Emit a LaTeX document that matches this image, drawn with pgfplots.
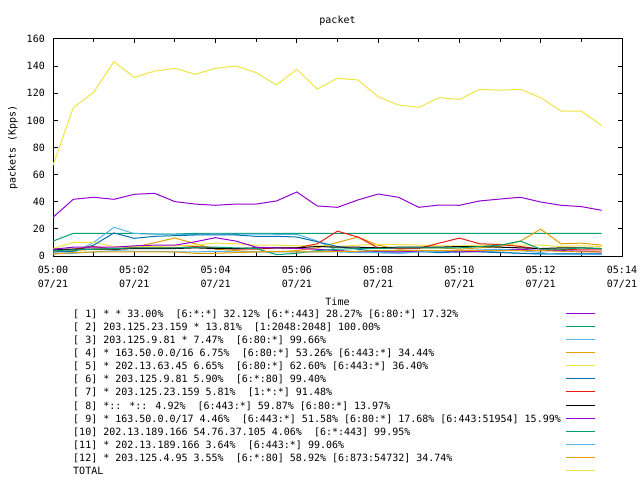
\documentclass[border=0pt]{standalone}
\usepackage{pgfplots}
\pgfplotsset{compat=1.18}
\usepackage{pgfplotstable}
\usepackage{fontspec}
\setmainfont{DejaVu Sans Mono}

% gnuplot default line colours
\definecolor{gp1}{RGB}{148,0,211}
\definecolor{gp2}{RGB}{0,158,115}
\definecolor{gp3}{RGB}{86,180,233}
\definecolor{gp4}{RGB}{230,159,0}
\definecolor{gp5}{RGB}{240,228,66}
\definecolor{gp6}{RGB}{0,114,178}
\definecolor{gp7}{RGB}{229,30,16}
\definecolor{gp8}{RGB}{0,0,0}

% t = minutes after 05:00
\pgfplotstableread{
t    s1   s2   s3   s4   s5   s6   s7   s8  s9   s10  s11 s12 tot
0.0  28.5 11.0 1.5  3.0  5.5  3.0  5.0  4.5 5.0  4.0  2.0 1.5 67.0
0.5  41.8 16.7 2.5  4.0  10.0 3.5  5.0  5.0 6.5  4.5  2.0 2.5 109.4
1.0  43.3 16.7 10.0 5.0  10.0 8.0  7.0  5.0 6.5  5.0  3.0 3.0 120.7
1.5  41.8 16.7 21.2 5.5  7.0  17.0 5.0  5.0 6.5  5.5  4.0 3.0 143.3
2.0  45.5 16.7 16.5 6.5  7.0  13.0 6.0  5.5 7.5  6.0  3.5 3.0 131.7
2.5  46.2 16.2 16.2 9.8  7.0  14.5 6.0  5.5 8.0  6.0  3.5 3.0 136.4
3.0  40.1 16.2 16.0 13.3 7.5  15.0 6.0  5.5 8.0  6.0  3.0 3.0 138.4
3.5  38.3 16.7 16.0 9.0  8.0  15.5 7.0  6.0 10.5 6.5  3.0 2.0 134.0
4.0  37.4 16.7 16.3 5.0  9.5  15.5 6.0  5.5 13.5 6.5  3.5 2.0 138.4
4.5  38.3 16.7 16.0 4.0  9.0  15.5 5.0  5.5 11.0 6.0  3.0 2.5 140.1
5.0  38.3 16.7 16.2 3.0  8.0  14.5 5.0  6.0 6.5  5.5  3.0 3.0 135.2
5.5  40.6 16.7 16.0 3.0  8.0  14.5 6.0  6.0 6.0  1.0  3.0 3.5 126.1
6.0  47.2 16.7 16.0 4.0  7.5  14.0 6.0  6.0 5.5  2.0  3.0 3.0 137.6
6.5  36.9 16.7 11.0 6.0  7.5  10.5 9.0  7.0 5.0  4.0  3.0 3.0 123.1
7.0  35.9 16.7 4.0  10.0 7.0  7.0  18.3 6.5 4.0  5.0  3.0 3.5 131.0
7.5  41.3 16.7 3.0  14.0 8.0  5.0  14.0 6.5 3.0  5.5  2.5 3.5 129.8
8.0  45.7 16.7 2.5  8.0  8.5  3.0  6.0  6.0 3.0  5.5  2.5 4.0 117.5
8.5  43.3 16.7 2.0  5.0  8.5  3.0  5.5  6.5 3.0  6.0  2.0 4.0 111.3
9.0  35.9 16.7 3.0  6.0  8.0  3.5  5.5  6.5 3.5  6.0  3.0 4.0 109.6
9.5  37.6 16.7 3.0  6.0  7.5  2.5  9.5  6.5 4.0  6.0  3.5 4.0 116.7
10.0 37.4 16.7 4.0  5.0  7.5  3.0  13.2 7.0 3.0  6.0  4.0 4.0 115.5
10.5 40.6 16.7 3.5  6.0  8.0  3.0  9.0  7.0 3.5  7.0  4.5 4.0 122.9
11.0 42.0 16.7 3.0  7.0  8.5  2.5  8.5  6.5 4.5  8.0  5.0 4.0 122.2
11.5 43.3 16.7 2.0  11.0 8.0  2.0  7.0  6.0 5.0  11.0 4.0 4.0 122.9
12.0 39.8 16.7 1.5  19.8 8.0  1.5  5.0  5.5 4.0  5.0  2.5 4.0 116.7
12.5 37.4 16.7 1.5  9.0  7.0  1.5  5.0  6.0 4.0  5.0  1.0 3.5 106.9
13.0 36.4 16.7 1.5  9.5  7.5  1.5  4.5  6.0 3.5  6.0  1.0 3.0 106.9
13.5 33.7 16.7 1.5  8.0  7.0  1.5  4.5  5.5 3.0  5.5  1.0 3.0 96.1
}\packets

\begin{document}
\begin{tikzpicture}[font=\fontsize{10bp}{13.4bp}\selectfont]
\useasboundingbox (0,0) rectangle (640bp,480bp);
\begin{axis}[
    at={(53bp,224bp)}, anchor=south west,
    scale only axis, width=569bp, height=217bp,
    xmin=0, xmax=14, ymin=0, ymax=160,
    xtick={0,2,...,14},
    minor xtick={1,3,...,13},
    xticklabels={{05:00\\07/21},{05:02\\07/21},{05:04\\07/21},{05:06\\07/21},
                 {05:08\\07/21},{05:10\\07/21},{05:12\\07/21},{05:14\\07/21}},
    ytick={0,20,...,160},
    xtick pos=both, ytick pos=both,
    tick align=inside,
    major tick length=4.5bp, minor tick length=3.5bp,
    tick style={black, line width=1bp},
    axis line style={black, line width=1bp},
    /pgf/number format/assume math mode=true,
    xticklabel style={align=center, anchor=north, inner sep=0pt, yshift=-10bp},
    yticklabel style={anchor=east, inner sep=0pt, xshift=-8bp},
    title={packet},
    every axis title/.style={at={(0.5,1)}, anchor=base, inner sep=0pt, yshift=15.7bp},
    xlabel={Time},
    every axis x label/.style={at={(0.5,0)}, anchor=base, inner sep=0pt, yshift=-49.5bp},
    ylabel={packets (Kpps)},
    every axis y label/.style={at={(-0.0659,0.5)}, rotate=90, anchor=base, inner sep=0pt},
    legend style={at={(0.0352,-0.241)}, anchor=north west, draw=none, fill=none,
        inner xsep=0pt, inner ysep=0pt, row sep=3.08bp, column sep=4.3bp,
        nodes={inner sep=0pt, text height=9bp, text depth=1bp}},
    legend cell align=left,
    legend plot pos=right,
    legend image code/.code={\draw[#1] (0bp,0bp) -- (29bp,0bp);},
]
\addplot[gp1, line width=1bp] table[x=t, y=s1] {\packets};
\addlegendentry{{[} 1] * * 33.00\%\ \ [6:*:*] 32.12\% [6:*:443] 28.27\% [6:80:*] 17.32\%}
\addplot[gp2, line width=1bp] table[x=t, y=s2] {\packets};
\addlegendentry{{[} 2] 203.125.23.159 * 13.81\%\ \ [1:2048:2048] 100.00\%}
\addplot[gp3, line width=1bp] table[x=t, y=s3] {\packets};
\addlegendentry{{[} 3] 203.125.9.81 * 7.47\%\ \ [6:80:*] 99.66\%}
\addplot[gp4, line width=1bp] table[x=t, y=s4] {\packets};
\addlegendentry{{[} 4] * 163.50.0.0/16 6.75\%\ \ [6:80:*] 53.26\% [6:443:*] 34.44\%}
\addplot[gp5, line width=1bp] table[x=t, y=s5] {\packets};
\addlegendentry{{[} 5] * 202.13.63.45 6.65\%\ \ [6:80:*] 62.60\% [6:443:*] 36.40\%}
\addplot[gp6, line width=1bp] table[x=t, y=s6] {\packets};
\addlegendentry{{[} 6] * 203.125.9.81 5.90\%\ \ [6:*:80] 99.40\%}
\addplot[gp7, line width=1bp] table[x=t, y=s7] {\packets};
\addlegendentry{{[} 7] * 203.125.23.159 5.81\%\ \ [1:*:*] 91.48\%}
\addplot[gp8, line width=1bp] table[x=t, y=s8] {\packets};
\addlegendentry{{[} 8] *:: *:: 4.92\%\ \ [6:443:*] 59.87\% [6:80:*] 13.97\%}
\addplot[gp1, line width=1bp] table[x=t, y=s9] {\packets};
\addlegendentry{{[} 9] * 163.50.0.0/17 4.46\%\ \ [6:443:*] 51.58\% [6:80:*] 17.68\% [6:443:51954] 15.99\%}
\addplot[gp2, line width=1bp] table[x=t, y=s10] {\packets};
\addlegendentry{{[}10] 202.13.189.166 54.76.37.105 4.06\%\ \ [6:*:443] 99.95\%}
\addplot[gp3, line width=1bp] table[x=t, y=s11] {\packets};
\addlegendentry{{[}11] * 202.13.189.166 3.64\%\ \ [6:443:*] 99.06\%}
\addplot[gp4, line width=1bp] table[x=t, y=s12] {\packets};
\addlegendentry{{[}12] * 203.125.4.95 3.55\%\ \ [6:*:80] 58.92\% [6:873:54732] 34.74\%}
\addplot[gp5, line width=1bp] table[x=t, y=tot] {\packets};
\addlegendentry{TOTAL}
\end{axis}
\end{tikzpicture}
\end{document}
